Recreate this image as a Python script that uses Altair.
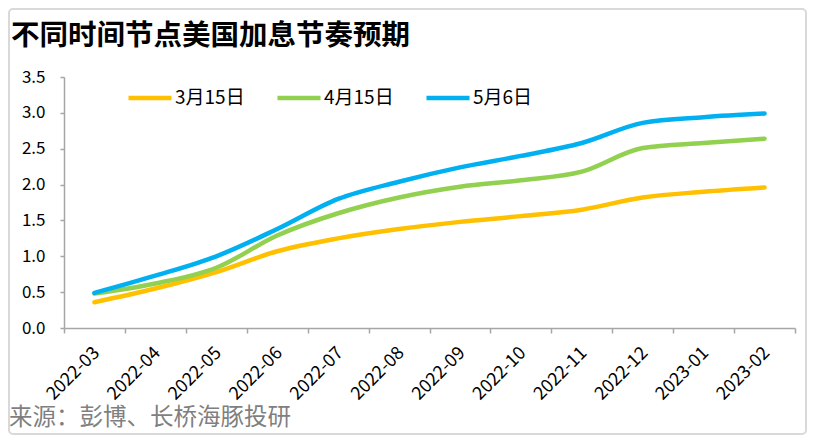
import altair as alt
import pandas as pd

months = ["2022-03", "2022-04", "2022-05", "2022-06", "2022-07", "2022-08",
          "2022-09", "2022-10", "2022-11", "2022-12", "2023-01", "2023-02"]
series_names = ["3月15日", "4月15日", "5月6日"]
s_0315 = [0.36, 0.55, 0.78, 1.07, 1.25, 1.38, 1.48, 1.56, 1.65, 1.82, 1.90, 1.96]
s_0415 = [0.48, 0.62, 0.84, 1.29, 1.60, 1.82, 1.97, 2.06, 2.18, 2.51, 2.58, 2.64]
s_0506 = [0.49, 0.73, 1.00, 1.38, 1.80, 2.04, 2.24, 2.40, 2.58, 2.86, 2.94, 2.99]
colors = ["#FFC000", "#92D050", "#00B0F0"]
y_ticks = [0.0, 0.5, 1.0, 1.5, 2.0, 2.5, 3.0, 3.5]
title_text = "不同时间节点美国加息节奏预期"
source_text = "来源：彭博、长桥海豚投研"

rows = []
for name, vals in zip(series_names, [s_0315, s_0415, s_0506]):
    for m, v in zip(months, vals):
        rows.append({"month": m, "series": name, "value": v})
df = pd.DataFrame(rows)

W, H = 731, 251
FONT = "Noto Sans CJK SC"

lines = alt.Chart(df).mark_line(
    interpolate="monotone", strokeWidth=4.5, strokeCap="round"
).encode(
    x=alt.X("month:N", sort=months, bandPosition=0.5,
            scale=alt.Scale(type="band", paddingInner=0, paddingOuter=0),
            axis=alt.Axis(title=None, labelAngle=-45, labelAlign="right",
                          labelBaseline="middle", labelPadding=17, labelOffset=2,
                          tickBand="extent", tickSize=5, labelFontSize=18,
                          labelColor="#000000", labelFont=FONT,
                          domainColor="#a6a6a6", tickColor="#a6a6a6",
                          domainWidth=1.5, tickWidth=1.5, grid=False)),
    y=alt.Y("value:Q", scale=alt.Scale(domain=[0, 3.5], nice=False),
            axis=alt.Axis(title=None, values=y_ticks, format=".1f",
                          tickSize=4, labelPadding=15, labelFontSize=17,
                          labelColor="#000000", labelFont=FONT,
                          domainColor="#a6a6a6", tickColor="#a6a6a6",
                          domainWidth=1.5, tickWidth=1.5, grid=False)),
    color=alt.Color("series:N", sort=series_names,
                    scale=alt.Scale(domain=series_names, range=colors),
                    legend=alt.Legend(title=None, orient="none", legendX=62, legendY=-3,
                                      direction="horizontal", symbolType="stroke",
                                      symbolStrokeWidth=4.5, symbolSize=1849,
                                      labelFontSize=19, labelFont=FONT,
                                      labelColor="#000000", columnPadding=23,
                                      labelOffset=1)),
    order=alt.Order("series:N"),
)

title = alt.Chart(pd.DataFrame({"t": [title_text]})).mark_text(
    align="left", baseline="middle", fontSize=28.5, fontWeight="bold", font=FONT,
    color="#000000"
).encode(text="t:N", x=alt.value(-53), y=alt.value(-41))

source = alt.Chart(pd.DataFrame({"t": [source_text]})).mark_text(
    align="left", baseline="middle", fontSize=23.5, font=FONT, color="#7f7f7f"
).encode(text="t:N", x=alt.value(-55), y=alt.value(H + 90))

frame = alt.Chart(pd.DataFrame({"a": [0]})).mark_rect(
    fill="transparent", stroke="#d9d9d9", strokeWidth=2, cornerRadius=4
).encode(x=alt.value(-55), x2=alt.value(W + 11), y=alt.value(-68), y2=alt.value(H + 106))

chart = alt.layer(frame, lines, title, source).properties(
    width=W, height=H,
    autosize=alt.AutoSizeParams(type="none"),
    padding={"left": 56, "top": 69, "right": 12, "bottom": 107},
).configure_view(stroke=None)

chart.save("out.html", embed_options={"renderer": "svg", "actions": False})
